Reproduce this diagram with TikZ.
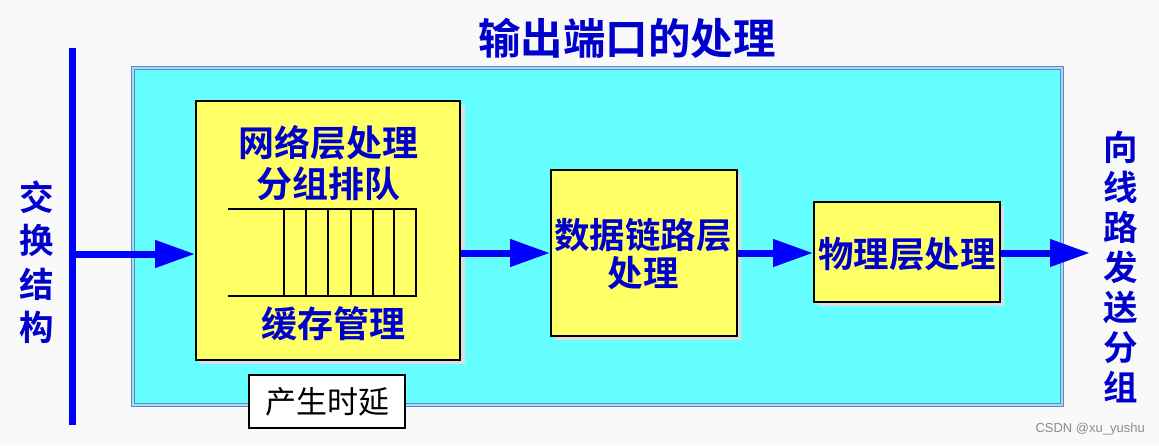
\documentclass[tikz,border=0pt]{standalone}
\usepackage{fontspec}
\usetikzlibrary{arrows.meta}
\newfontfamily\cjk{Noto Sans CJK SC}
\newfontfamily\cjkb{Noto Sans CJK SC Bold}
\definecolor{txtblue}{RGB}{0,0,204}
\definecolor{arrblue}{RGB}{0,0,255}
\definecolor{cyanfill}{RGB}{102,255,255}
\definecolor{yelfill}{RGB}{255,255,102}
\definecolor{framebl}{RGB}{90,140,200}
\definecolor{framelt}{RGB}{175,215,245}
\definecolor{bgc}{RGB}{249,249,249}
\tikzset{
  btxt/.style={font=\cjkb\fontsize{#1}{#1}\selectfont, text=txtblue, inner sep=0pt, align=center},
  ybox/.style={draw=black, line width=1.6pt, fill=yelfill},
  shadowbox/.style={fill=black!13, draw=none},
  flow/.style={draw=arrblue, line width=7pt, -{Triangle[length=40pt,width=26pt]}},
  qline/.style={draw=black, line width=1.5pt}
}
\begin{document}
\begin{tikzpicture}[x=1pt,y=-1pt]
\useasboundingbox (0,0) rectangle (1159,445);
\fill[bgc] (0,0) rectangle (1159,445);
% title
\node[btxt=42.5] (title) at (627,38) {输出端口的处理};
% outer cyan frame
\draw[draw=framebl, line width=1.2pt, double=framelt, double distance=2.2pt, fill=cyanfill] (133,68) rectangle (1062,405);
% left bar
\draw[arrblue, line width=7pt] (72,48) -- (72,425);
\coordinate (bar) at (72,254);
\node[btxt=34.5, align=center] (left) at (37,262) {交\\[9pt]换\\[9pt]结\\[9pt]构};
% box 1
\fill[shadowbox] (200,105) rectangle (465,364);
\node[ybox, minimum width=264pt, minimum height=259pt, inner sep=0pt] (b1) at (328,230.5) {};
\node[btxt=36] (t1a) at (328,143) {网络层处理};
\node[btxt=36] (t1b) at (328,184) {分组排队};
\node[btxt=36] (t1c) at (333,324) {缓存管理};
% queue
\draw[qline] (228,209) -- (416,209) -- (416,296) -- (228,296);
\foreach \qx in {284,306,328,351,373,394} { \draw[qline] (\qx,209) -- (\qx,296); }
% delay box
\node[draw=black, line width=1.5pt, fill=white, minimum width=156pt, minimum height=53pt, inner sep=0pt, font=\cjk\fontsize{31}{31}\selectfont] (delay) at (327,401.5) {产生时延};
% box 2
\fill[shadowbox] (555,174) rectangle (741,340);
\node[ybox, minimum width=186pt, minimum height=166pt, inner sep=0pt] (b2) at (644,253) {};
\node[btxt=35.5] (t2) at (643,254) {数据链路层\\[3pt]处理};
% box 3
\fill[shadowbox] (818,206) rectangle (1004,306);
\node[ybox, minimum width=186pt, minimum height=100pt, inner sep=0pt] (b3) at (907,252) {};
\node[btxt=35.5] (t3) at (907,254) {物理层处理};
% right text
\node[btxt=34.5, align=center] (right) at (1121,267) {向\\[5.5pt]线\\[5.5pt]路\\[5.5pt]发\\[5.5pt]送\\[5.5pt]分\\[5.5pt]组};
\coordinate (out) at (1090,253);
% arrows
\draw[flow] (bar) -- (b1.west |- bar);
\draw[flow] (b1.east |- 0,253) -- (b2.west |- 0,253);
\draw[flow] (b2.east |- 0,253) -- (b3.west |- 0,253);
\draw[flow] (b3.east |- 0,253) -- (out);
% watermark
\node[font=\fontspec{Liberation Sans}\fontsize{13}{13}\selectfont, text=black!45, anchor=east, inner sep=0pt] (wm) at (1145,429) {CSDN @xu\_yushu};
\end{tikzpicture}
\end{document}
